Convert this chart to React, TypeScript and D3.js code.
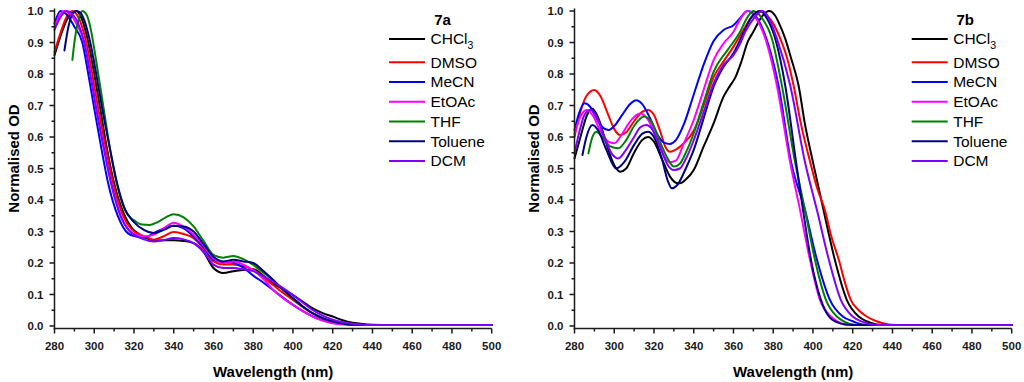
import React from 'react';
import * as d3 from 'd3';

type Pt = [number, number];

// ---------- DATA ----------
const SOLVENTS = ['CHCl3', 'DMSO', 'MeCN', 'EtOAc', 'THF', 'Toluene', 'DCM'];
const COLORS = ['#000000', '#ff0000', '#0000ff', '#ff00ff', '#008000', '#000080', '#8000ff'];
const X_TICKS = [280, 300, 320, 340, 360, 380, 400, 420, 440, 460, 480, 500];
const Y_TICKS = [0, 0.1, 0.2, 0.3, 0.4, 0.5, 0.6, 0.7, 0.8, 0.9, 1.0];
const PANEL_TITLES = ['7a', '7b'];
const X_TITLE = 'Wavelength (nm)';
const Y_TITLE = 'Normalised OD';

// 7a
const a_CHCl3: Pt[] = [[280,0.86],[283,0.92],[286,0.97],[289,0.995],[291,1.0],[294,0.97],[297,0.9],[300,0.8],[303,0.69],[306.5,0.56],[310,0.453],[315,0.355],[319,0.31],[323,0.29],[326,0.28],[330,0.271],[335,0.272],[340,0.272],[345,0.27],[350,0.263],[355,0.235],[360,0.184],[365,0.168],[370,0.174],[375,0.178],[380,0.18],[385,0.16],[390,0.135],[395,0.117],[400,0.098],[405,0.077],[410,0.056],[415,0.041],[420,0.03],[425,0.018],[430,0.01],[435,0.006],[440,0.004],[450,0.003],[500,0.003]];
const a_DMSO: Pt[] = [[280,0.87],[283,0.93],[286,0.98],[289,1.0],[292,0.98],[296,0.9],[299,0.8],[302,0.69],[306,0.56],[309.5,0.453],[314.5,0.35],[319,0.305],[323,0.29],[326,0.283],[330,0.274],[335,0.285],[340,0.298],[345,0.292],[350,0.279],[355,0.245],[360,0.205],[365,0.195],[370,0.195],[375,0.19],[380,0.178],[385,0.155],[390,0.13],[395,0.105],[400,0.083],[405,0.06],[410,0.04],[415,0.025],[420,0.014],[425,0.008],[430,0.005],[440,0.003],[500,0.003]];
const a_MeCN: Pt[] = [[280,0.96],[283,1.0],[286,0.99],[290,0.95],[294,0.9],[297,0.8],[300,0.69],[303.7,0.56],[307,0.453],[312,0.347],[317,0.294],[321,0.284],[325,0.28],[330,0.295],[335,0.31],[340,0.318],[345,0.31],[350,0.284],[355,0.25],[360,0.21],[365,0.203],[370,0.2],[375,0.185],[380,0.16],[385,0.138],[390,0.114],[395,0.09],[400,0.067],[405,0.047],[410,0.03],[415,0.018],[420,0.01],[425,0.006],[430,0.004],[440,0.003],[500,0.003]];
const a_EtOAc: Pt[] = [[280,0.95],[283,0.99],[285,1.0],[288,0.99],[291,0.96],[295,0.9],[298,0.8],[301,0.69],[305,0.56],[308.5,0.453],[313.5,0.347],[318,0.3],[322,0.288],[326,0.285],[330,0.29],[335,0.31],[340,0.328],[345,0.315],[350,0.29],[355,0.255],[360,0.215],[365,0.2],[370,0.205],[375,0.195],[380,0.177],[385,0.15],[390,0.115],[395,0.088],[400,0.067],[405,0.047],[410,0.03],[415,0.017],[420,0.009],[425,0.005],[430,0.004],[440,0.003],[500,0.003]];
const a_THF: Pt[] = [[289,0.845],[290,0.9],[292,0.97],[294,1.0],[296,0.99],[298,0.95],[300,0.88],[302,0.8],[305,0.68],[308,0.559],[311.3,0.453],[315.5,0.368],[321,0.331],[324,0.322],[328,0.321],[332,0.33],[336,0.345],[340,0.355],[345,0.345],[350,0.316],[355,0.27],[360,0.226],[365,0.217],[370,0.222],[375,0.212],[380,0.194],[385,0.17],[390,0.146],[395,0.115],[400,0.088],[405,0.062],[410,0.04],[415,0.025],[420,0.014],[425,0.008],[430,0.004],[440,0.003],[500,0.003]];
const a_Toluene: Pt[] = [[285,0.875],[287,0.95],[289,0.99],[291,1.0],[293,0.995],[295,0.97],[298,0.9],[301,0.8],[304,0.69],[308,0.56],[311.5,0.453],[315.5,0.37],[320,0.33],[325,0.305],[330,0.295],[335,0.305],[340,0.318],[345,0.316],[350,0.3],[355,0.26],[360,0.22],[365,0.205],[370,0.21],[375,0.205],[380,0.2],[385,0.175],[390,0.146],[395,0.115],[400,0.088],[405,0.062],[410,0.04],[415,0.025],[420,0.014],[425,0.008],[430,0.004],[440,0.003],[500,0.003]];
const a_DCM: Pt[] = [[280,0.94],[283,0.98],[286,1.0],[289,0.99],[292,0.96],[295,0.9],[298,0.8],[301,0.69],[305,0.56],[308.5,0.453],[313.5,0.345],[318,0.3],[322,0.283],[325,0.275],[330,0.268],[335,0.273],[340,0.279],[345,0.275],[350,0.263],[355,0.235],[360,0.195],[365,0.184],[370,0.184],[375,0.18],[380,0.174],[385,0.158],[390,0.14],[395,0.12],[400,0.098],[405,0.074],[410,0.05],[415,0.033],[420,0.02],[425,0.012],[430,0.007],[435,0.004],[440,0.003],[500,0.003]];

// 7b
const b_CHCl3: Pt[] = [[280,0.532],[283,0.6],[286,0.665],[289,0.69],[292,0.66],[296,0.58],[300,0.51],[303,0.49],[306,0.5],[310,0.55],[314,0.59],[317,0.6],[320,0.585],[324,0.53],[328,0.475],[331,0.455],[333,0.453],[336,0.465],[340,0.495],[345,0.57],[350,0.643],[355,0.728],[358,0.76],[361,0.79],[364,0.84],[367,0.9],[370,0.934],[374,0.98],[378,1.0],[381,0.985],[383,0.96],[386,0.913],[389,0.85],[392.7,0.765],[396,0.64],[400,0.52],[405.3,0.368],[411,0.21],[417,0.083],[423,0.03],[427,0.015],[432,0.005],[440,0.003],[500,0.003]];
const b_DMSO: Pt[] = [[280,0.6],[283,0.68],[286,0.73],[290,0.749],[293,0.73],[297,0.67],[300,0.625],[303,0.606],[306,0.615],[310,0.65],[314,0.68],[317,0.686],[320,0.67],[323,0.62],[326,0.565],[328,0.553],[331,0.56],[335,0.58],[340,0.62],[345,0.7],[350,0.79],[355,0.84],[360,0.887],[365,0.94],[369,0.98],[373,1.0],[377,0.985],[380,0.96],[383.5,0.913],[387,0.85],[390.2,0.765],[394,0.64],[398.6,0.52],[402,0.44],[406,0.368],[409,0.29],[413,0.21],[416,0.14],[419,0.083],[423,0.05],[427,0.03],[432,0.015],[438,0.005],[445,0.003],[500,0.003]];
const b_MeCN: Pt[] = [[280,0.622],[282,0.67],[285,0.707],[288,0.695],[291,0.66],[294,0.632],[297,0.622],[300,0.635],[304,0.67],[308,0.705],[311,0.717],[314,0.705],[318,0.66],[322,0.605],[325,0.582],[328,0.578],[331,0.59],[335,0.64],[340,0.735],[345,0.83],[350,0.905],[355,0.94],[360,0.955],[363,0.975],[367,1.0],[371,0.985],[376.5,0.913],[382.6,0.765],[389,0.52],[396,0.368],[402,0.21],[408.5,0.083],[415,0.03],[420,0.015],[425,0.005],[432,0.003],[500,0.003]];
const b_EtOAc: Pt[] = [[280,0.61],[283,0.665],[286,0.686],[289,0.67],[293,0.62],[297,0.585],[300,0.58],[304,0.61],[308,0.65],[313,0.675],[317,0.655],[321,0.6],[325,0.54],[328,0.52],[331,0.525],[335,0.58],[340,0.654],[345,0.75],[350,0.844],[355,0.897],[360,0.934],[363,0.97],[367,1.0],[371,0.98],[376,0.913],[381.8,0.765],[388.5,0.52],[393.5,0.368],[398.5,0.21],[403.5,0.083],[409,0.03],[413,0.012],[417,0.005],[425,0.003],[500,0.003]];
const b_THF: Pt[] = [[287,0.548],[289,0.6],[291,0.617],[294,0.6],[298,0.57],[302,0.564],[306,0.59],[310,0.635],[315,0.665],[319,0.645],[323,0.585],[327,0.53],[330,0.506],[333,0.515],[336,0.55],[340,0.612],[345,0.71],[350,0.807],[357,0.876],[363,0.93],[367,0.98],[370,1.0],[374,0.98],[379.3,0.913],[384.3,0.765],[391,0.52],[396,0.368],[401,0.21],[406.5,0.083],[412,0.03],[416,0.013],[420,0.005],[428,0.003],[500,0.003]];
const b_Toluene: Pt[] = [[284,0.543],[286,0.6],[289,0.638],[292,0.62],[296,0.56],[301,0.5],[305,0.52],[310,0.575],[314,0.61],[317,0.617],[320,0.6],[324,0.53],[327,0.46],[329,0.437],[332,0.45],[336,0.5],[340,0.559],[345,0.66],[350,0.76],[355,0.823],[360,0.866],[365,0.93],[369,0.98],[373.5,1.0],[377,0.975],[381,0.913],[386,0.765],[391.5,0.52],[395,0.368],[399,0.21],[404,0.083],[408,0.03],[412,0.012],[416,0.005],[424,0.003],[500,0.003]];
const b_DCM: Pt[] = [[280,0.548],[283,0.63],[285,0.67],[288,0.686],[291,0.665],[295,0.6],[299,0.545],[302,0.532],[306,0.56],[310,0.6],[313,0.63],[316,0.638],[319,0.625],[323,0.57],[327,0.51],[330,0.495],[333,0.5],[336,0.53],[340,0.59],[345,0.68],[350,0.77],[355,0.829],[360,0.86],[363,0.892],[366,0.935],[370,0.975],[374.5,1.0],[378,0.975],[381.8,0.913],[388.5,0.765],[396,0.52],[402,0.368],[408,0.21],[414,0.083],[420,0.03],[425,0.013],[430,0.005],[437,0.003],[500,0.003]];

const SERIES_A = [a_CHCl3, a_DMSO, a_MeCN, a_EtOAc, a_THF, a_Toluene, a_DCM];
const SERIES_B = [b_CHCl3, b_DMSO, b_MeCN, b_EtOAc, b_THF, b_Toluene, b_DCM];

// ---------- LAYOUT ----------
const W = 1024;
const H = 382;
const FONT = "'Liberation Sans', Arial, Helvetica, sans-serif";
const AXIS_COLOR = '#1a1a1a';
const PLOT_W = 437.2;
const TOP = 8.5;
const BOTTOM = 328.5;

interface PanelProps {
  left: number;
  series: Pt[][];
  title: string;
  legendX: number;
}

function Legend({ x, title }: { x: number; title: string }) {
  const rowsY = [44.3, 67.5, 87.2, 107, 126.8, 146.6, 166.4];
  return (
    <g fontFamily={FONT}>
      <text x={x + 53.5} y={25} fontSize={15} fontWeight="bold" textAnchor="middle" fill="#000">
        {title}
      </text>
      {SOLVENTS.map((s, i) => (
        <g key={s}>
          <line x1={x} x2={x + 36} y1={rowsY[i] - 5.3} y2={rowsY[i] - 5.3} stroke={COLORS[i]} strokeWidth={2} />
          <text x={x + 41.5} y={rowsY[i]} fontSize={15.5} fill="#000">
            {s === 'CHCl3' ? (
              <>
                CHCl<tspan fontSize={10.5} dy={4.5}>3</tspan>
              </>
            ) : (
              s
            )}
          </text>
        </g>
      ))}
    </g>
  );
}

function Panel({ left, series, title, legendX }: PanelProps) {
  const x = d3.scaleLinear().domain([280, 500]).range([left, left + PLOT_W]);
  const y = d3.scaleLinear().domain([-0.008, 1.008]).range([BOTTOM, TOP]);
  const line = d3
    .line<Pt>()
    .x((d) => x(d[0]))
    .y((d) => y(d[1]))
    .curve(d3.curveMonotoneX);

  const xMinor = d3.range(290, 500, 20);
  const yMinor = d3.range(0.05, 1.0, 0.1);

  return (
    <g>
      <g fill="none" strokeWidth={2} strokeLinejoin="round" strokeLinecap="round">
        {series.map((s, i) => (
          <path key={i} d={line(s) || ''} stroke={COLORS[i]} />
        ))}
      </g>
      <g stroke={AXIS_COLOR} strokeWidth={1.5}>
        <line x1={left} x2={left} y1={TOP} y2={BOTTOM + 0.75} />
        <line x1={left - 0.75} x2={left + PLOT_W} y1={BOTTOM} y2={BOTTOM} />
        {X_TICKS.map((t) => (
          <line key={'xt' + t} x1={x(t)} x2={x(t)} y1={BOTTOM} y2={BOTTOM + 5} />
        ))}
        {xMinor.map((t) => (
          <line key={'xm' + t} x1={x(t)} x2={x(t)} y1={BOTTOM} y2={BOTTOM + 3} />
        ))}
        {Y_TICKS.map((t) => (
          <line key={'yt' + t} x1={left - 5} x2={left} y1={y(t)} y2={y(t)} />
        ))}
        {yMinor.map((t) => (
          <line key={'ym' + t} x1={left - 3} x2={left} y1={y(t)} y2={y(t)} />
        ))}
      </g>
      <g fontFamily={FONT} fontSize={11.5} fontWeight="bold" fill="#1a1a1a">
        {X_TICKS.map((t) => (
          <text key={'xl' + t} x={x(t)} y={350} textAnchor="middle">
            {t}
          </text>
        ))}
        {Y_TICKS.map((t) => (
          <text key={'yl' + t} x={left - 11} y={y(t) + 4.2} textAnchor="end">
            {t.toFixed(1)}
          </text>
        ))}
      </g>
      <text
        x={left + PLOT_W / 2}
        y={377}
        textAnchor="middle"
        fontFamily={FONT}
        fontSize={15}
        fontWeight="bold"
        fill="#000"
      >
        {X_TITLE}
      </text>
      <text
        transform={`translate(${left - 36},158.5) rotate(-90)`}
        textAnchor="middle"
        fontFamily={FONT}
        fontSize={15}
        fontWeight="bold"
        fill="#000"
      >
        {Y_TITLE}
      </text>
      <Legend x={legendX} title={title} />
    </g>
  );
}

export default function App() {
  return (
    <svg
      width={W}
      height={H}
      viewBox={`0 0 ${W} ${H}`}
      style={{ position: 'absolute', left: 0, top: 0, background: '#fff' }}
    >
      <rect width={W} height={H} fill="#fff" />
      <Panel left={54.5} series={SERIES_A} title={PANEL_TITLES[0]} legendX={389} />
      <Panel left={574.5} series={SERIES_B} title={PANEL_TITLES[1]} legendX={911.7} />
    </svg>
  );
}
